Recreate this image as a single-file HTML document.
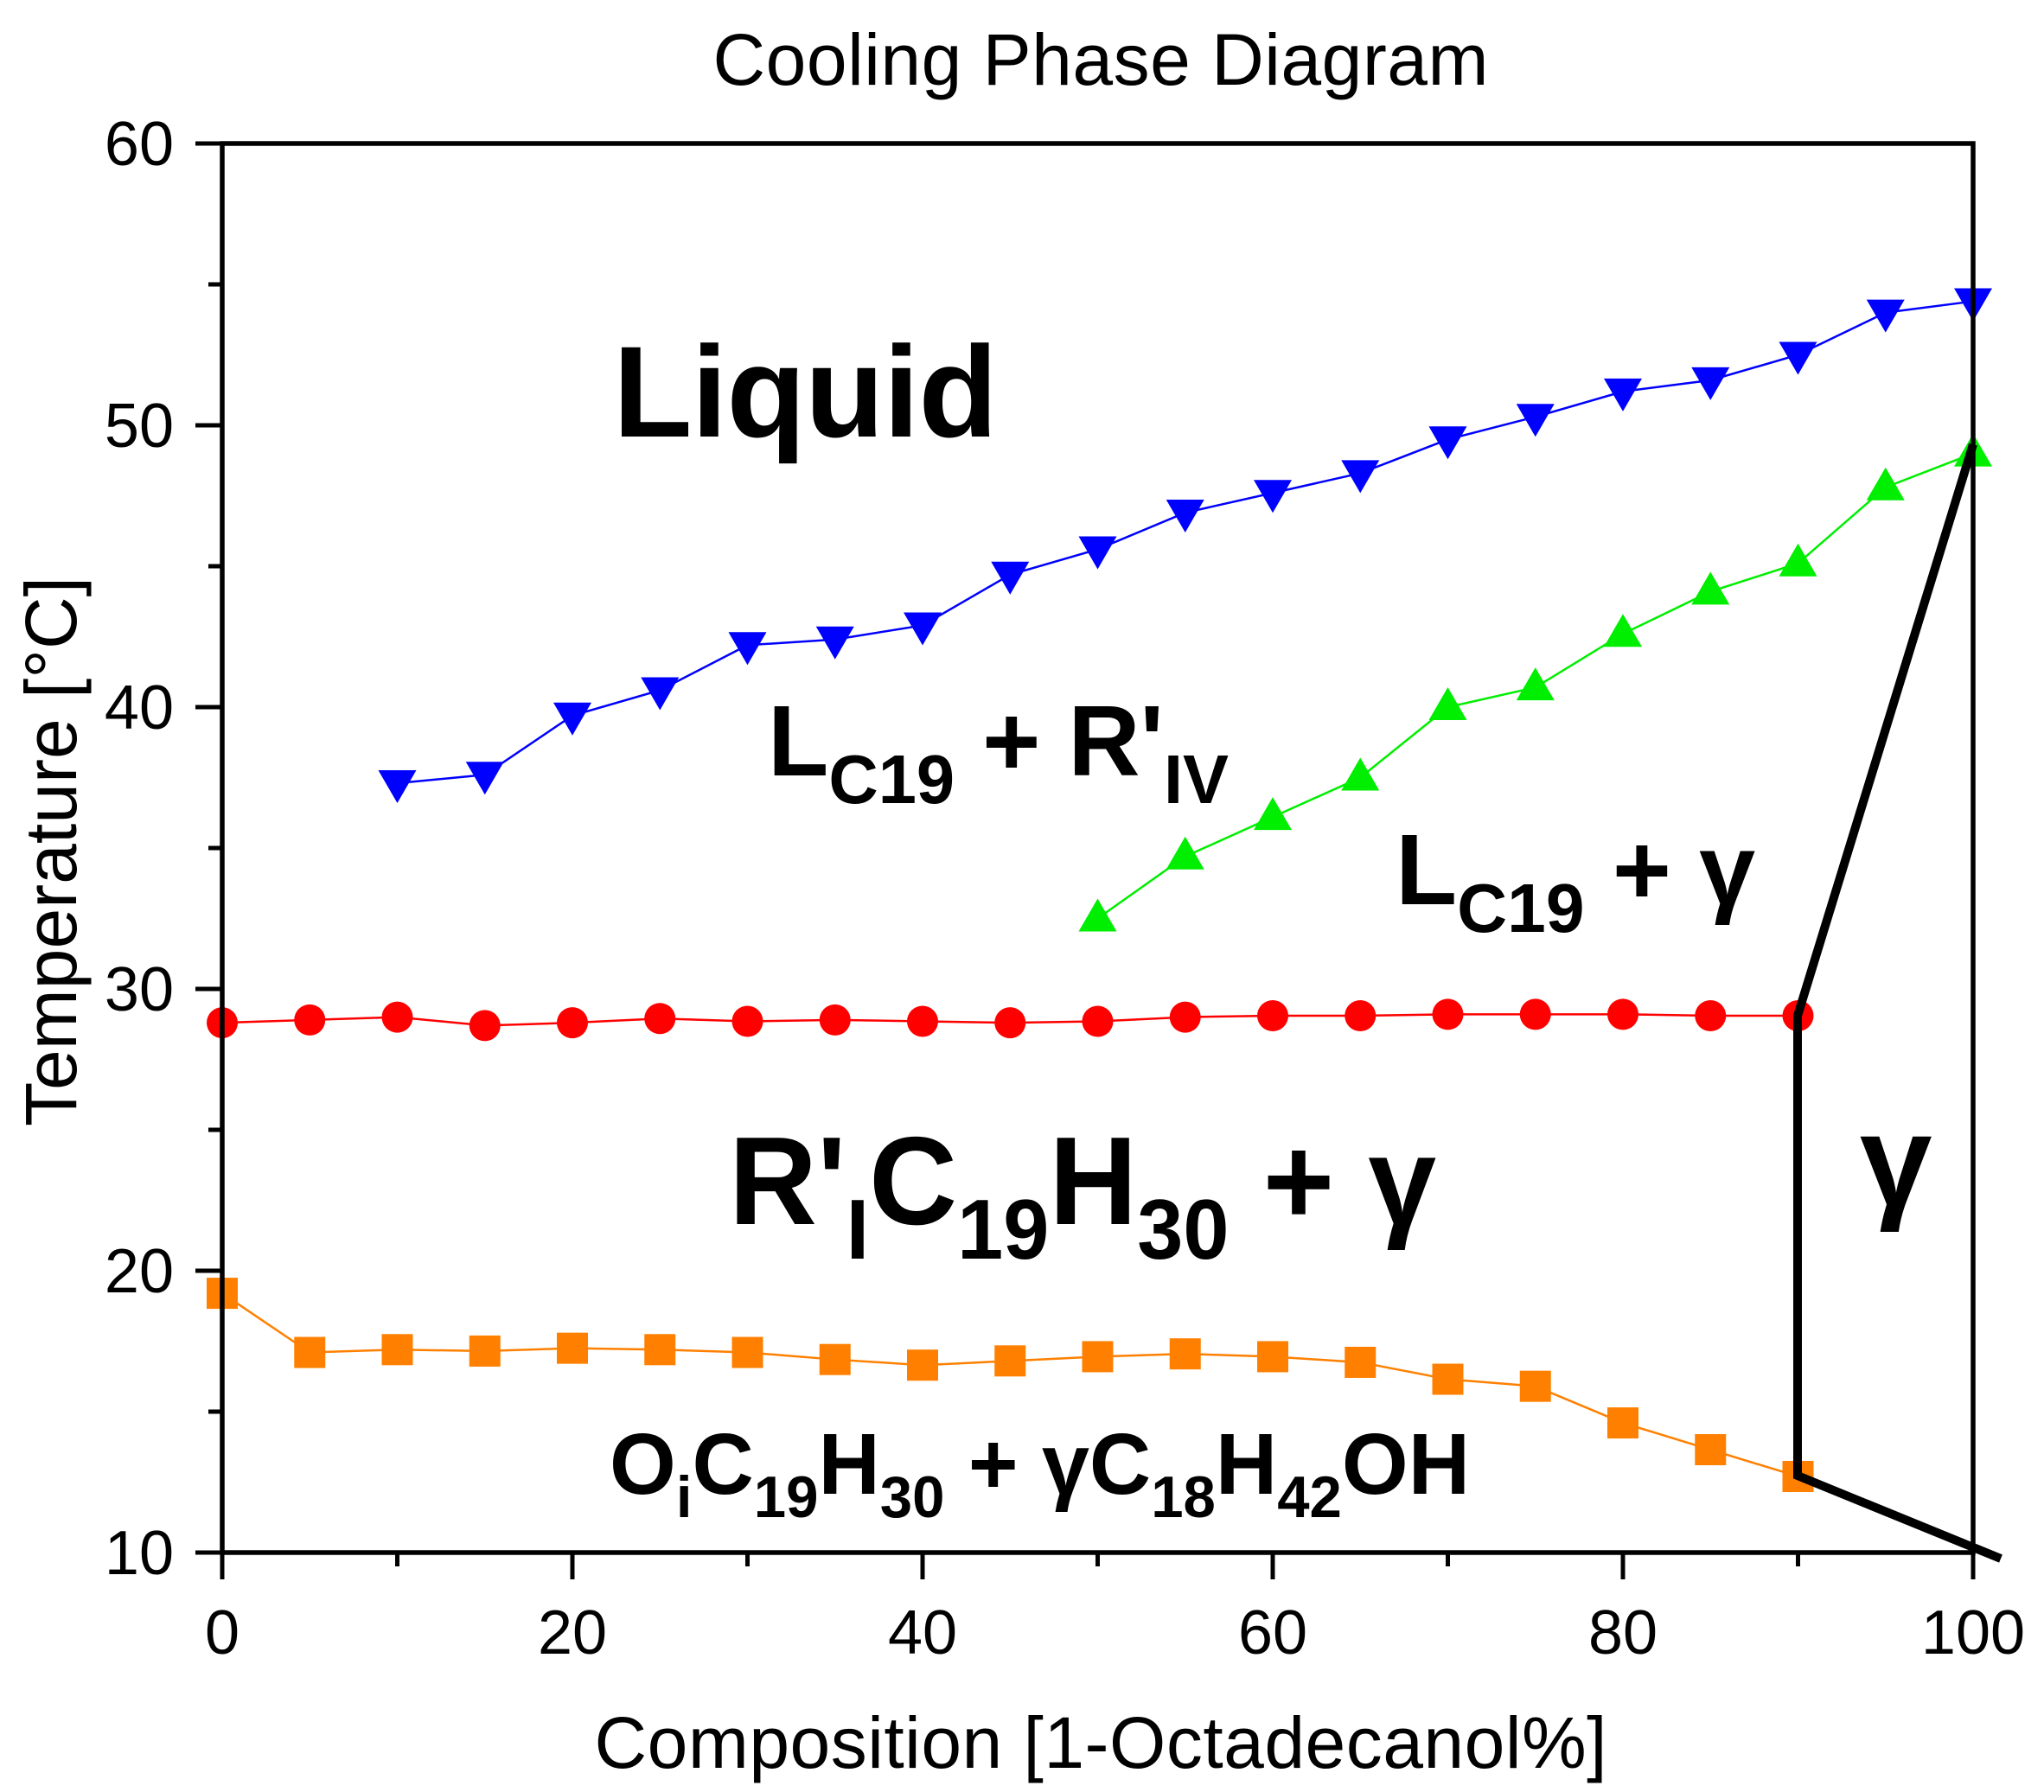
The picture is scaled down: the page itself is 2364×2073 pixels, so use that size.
<!DOCTYPE html>
<html><head><meta charset="utf-8"><style>html,body{margin:0;padding:0;background:#fff}svg{display:block}</style></head>
<body>
<svg xmlns="http://www.w3.org/2000/svg" width="2364" height="2073" viewBox="0 0 2364 2073" font-family="Liberation Sans, Arial, sans-serif">
<rect width="2364" height="2073" fill="#fff"/>
<text x="1273" y="98" font-size="84" text-anchor="middle" textLength="897">Cooling Phase Diagram</text>
<g id="plot"></g>
<g stroke="#000" stroke-width="5.5" fill="none">
<rect x="257" y="166" width="2025" height="1630"/>
</g>
<g id="ticks" stroke="#000" stroke-width="5"></g>
<g id="labels" font-size="72"></g>
<text x="1273" y="2045" font-size="84" text-anchor="middle" textLength="1171">Composition [1-Octadecanol%]</text>
<text transform="translate(88,985) rotate(-90)" font-size="84" text-anchor="middle" textLength="636">Temperature [°C]</text>
<g font-weight="bold" fill="#000">
<text x="709" y="505" font-size="150" textLength="445">Liquid</text>
<text x="888" y="897" font-size="116" textLength="533" lengthAdjust="spacingAndGlyphs">L<tspan font-size="80" dy="32">C19</tspan><tspan dy="-32"> + R'</tspan><tspan font-size="80" dy="32">IV</tspan></text>
<text x="1614" y="1046" font-size="116" textLength="416" lengthAdjust="spacingAndGlyphs">L<tspan font-size="80" dy="32">C19</tspan><tspan dy="-32"> + γ</tspan></text>
<text x="843" y="1416" font-size="145" textLength="818" lengthAdjust="spacingAndGlyphs">R'<tspan font-size="98" dy="40">I</tspan><tspan dy="-40">C</tspan><tspan font-size="98" dy="40">19</tspan><tspan dy="-40">H</tspan><tspan font-size="98" dy="40">30</tspan><tspan dy="-40"> + γ</tspan></text>
<text x="2151" y="1394" font-size="150">γ</text>
<text x="705" y="1728" font-size="100" textLength="995" lengthAdjust="spacingAndGlyphs">O<tspan font-size="68" dy="27">i</tspan><tspan dy="-27">C</tspan><tspan font-size="68" dy="27">19</tspan><tspan dy="-27">H</tspan><tspan font-size="68" dy="27">30</tspan><tspan dy="-27"> + γC</tspan><tspan font-size="68" dy="27">18</tspan><tspan dy="-27">H</tspan><tspan font-size="68" dy="27">42</tspan><tspan dy="-27">OH</tspan></text>
</g>
<polyline points="2282,514 2079,1175 2079,1707 2314,1803" fill="none" stroke="#000" stroke-width="10"/>
<script>
const X=v=>257+v*20.25, Y=t=>1796-(t-10)*32.6;
const ns="http://www.w3.org/2000/svg";
const P=document.getElementById('plot');
function el(n,a,p){const e=document.createElementNS(ns,n);for(const k in a)e.setAttribute(k,a[k]);(p||P).appendChild(e);return e;}
const blue=[[10,37.3],[15,37.6],[20,39.7],[25,40.6],[30,42.2],[35,42.4],[40,42.9],[45,44.7],[50,45.6],[55,46.9],[60,47.6],[65,48.3],[70,49.5],[75,50.3],[80,51.2],[85,51.6],[90,52.5],[95,54.0],[100,54.4]];
const green=[[50,32.5],[55,34.7],[60,36.1],[65,37.5],[70,40.0],[75,40.7],[80,42.6],[85,44.1],[90,45.1],[95,47.8],[100,49.0]];
const red=[[0,28.8],[5,28.9],[10,29.0],[15,28.7],[20,28.8],[25,28.95],[30,28.85],[35,28.9],[40,28.85],[45,28.8],[50,28.85],[55,29.0],[60,29.05],[65,29.05],[70,29.1],[75,29.1],[80,29.1],[85,29.05],[90,29.05]];
const orange=[[0,19.2],[5,17.1],[10,17.2],[15,17.15],[20,17.25],[25,17.2],[30,17.1],[35,16.85],[40,16.65],[45,16.8],[50,16.95],[55,17.05],[60,16.95],[65,16.75],[70,16.15],[75,15.9],[80,14.6],[85,13.65],[90,12.7]];
function line(d,c){el('polyline',{points:d.map(p=>X(p[0])+','+Y(p[1])).join(' '),fill:'none',stroke:c,'stroke-width':2.5});}
line(blue,'#0000ff');line(green,'#00ee00');line(red,'#ff0000');line(orange,'#ff8000');
blue.forEach(p=>{const x=X(p[0]),y=Y(p[1]);el('polygon',{points:`${x-22},${y-15} ${x+22},${y-15} ${x},${y+23}`,fill:'#0000ff'});});
green.forEach(p=>{const x=X(p[0]),y=Y(p[1]);el('polygon',{points:`${x-22},${y+15} ${x+22},${y+15} ${x},${y-23}`,fill:'#00ee00'});});
red.forEach(p=>el('circle',{cx:X(p[0]),cy:Y(p[1]),r:18,fill:'#ff0000'}));
orange.forEach(p=>el('rect',{x:X(p[0])-18,y:Y(p[1])-18,width:36,height:36,fill:'#ff8000'}));
const T=document.getElementById('ticks'),L=document.getElementById('labels');
for(let v=0;v<=100;v+=10){const x=X(v),maj=v%20==0;el('line',{x1:x,y1:1796,x2:x,y2:1796+(maj?31:16)},T);
 if(maj){const t=el('text',{x:x,y:1913,'text-anchor':'middle'},L);t.textContent=v;}}
for(let t=10;t<=60;t+=5){const y=Y(t),maj=t%10==0;el('line',{x1:257,y1:y,x2:257-(maj?31:16),y2:y},T);
 if(maj){const e=el('text',{x:201,y:y+25,'text-anchor':'end'},L);e.textContent=t;}}
</script>
</svg>
</body></html>
